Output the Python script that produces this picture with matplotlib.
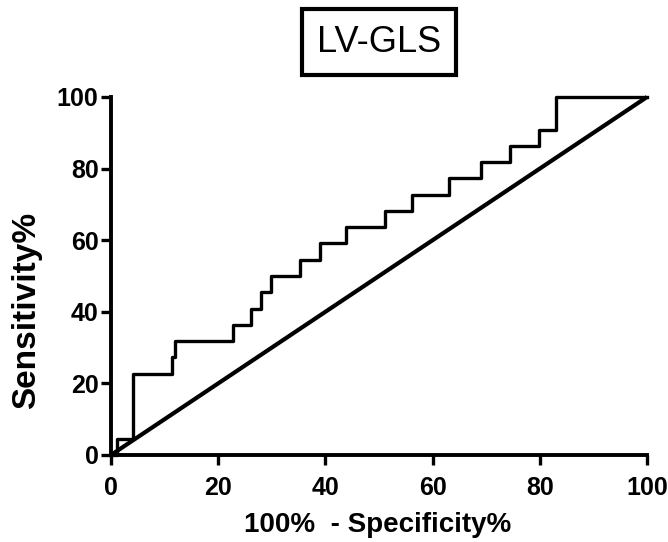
import matplotlib
matplotlib.use("Agg")
import matplotlib.pyplot as plt

plt.rcParams['font.family'] = ['Liberation Sans', 'DejaVu Sans']

# ROC curve breakpoints (100% - Specificity%) and sensitivity levels (%)
fpr = [0, 1.2, 4.06, 11.4, 11.9, 22.7, 26.1, 28.0, 29.9, 35.3, 39.0, 43.9,
       51.1, 56.1, 63.1, 69.1, 74.4, 79.9, 83.1, 100]
sens = [0, 4.55, 22.73, 27.27, 31.82, 36.36, 40.91, 45.45, 50.0, 54.55, 59.09,
        63.64, 68.18, 72.73, 77.27, 81.82, 86.36, 90.91, 100.0, 100.0]
ref_x = [0, 100]
ref_y = [0, 100]
ticks = [0, 20, 40, 60, 80, 100]
title = "LV-GLS"
xlabel = "100%  - Specificity%"
ylabel = "Sensitivity%"

fig = plt.figure(figsize=(6.68, 5.42), dpi=100)
ax = fig.add_axes([111/668, 87/542, 536/668, 358/542])

ax.plot(ref_x, ref_y, color='black', lw=3.0, clip_on=False, solid_capstyle='butt')
ax.step(fpr, sens, where='post', color='black', lw=2.4, clip_on=False)

ax.set_xlim(0, 100)
ax.set_ylim(0, 100)
ax.set_xticks(ticks)
ax.set_yticks(ticks)
ax.set_xticklabels([str(t) for t in ticks], fontsize=18, fontweight='bold')
ax.set_yticklabels([str(t) for t in ticks], fontsize=18, fontweight='bold')
for s in ['top', 'right']:
    ax.spines[s].set_visible(False)
for s in ['left', 'bottom']:
    ax.spines[s].set_linewidth(2.8)
ax.tick_params(axis='both', direction='out', length=7, width=2.4, colors='black')
ax.tick_params(axis='x', pad=8)
ax.tick_params(axis='y', pad=2)

fig.text(379/668, 1 - 42/542, title, fontsize=26, ha='center', va='center',
         bbox=dict(boxstyle='square,pad=0.42', fc='white', ec='black', lw=3))
fig.text(378/668, 1 - 525/542, xlabel, fontsize=20, fontweight='bold',
         ha='center', va='center')
fig.text(27/668, 1 - 310/542, ylabel, fontsize=24, fontweight='bold',
         ha='center', va='center', rotation=90)

fig.savefig("out.png", dpi=100)
